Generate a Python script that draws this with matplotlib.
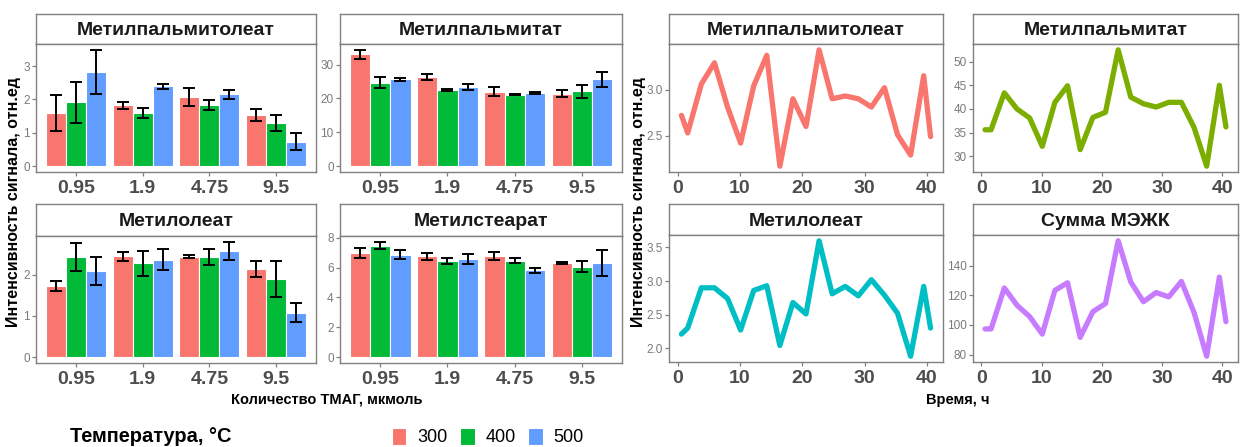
import matplotlib
matplotlib.use("Agg")
import matplotlib.pyplot as plt
from matplotlib.patches import Patch

plt.rcParams['font.family'] = ['Liberation Sans', 'DejaVu Sans']

# ---- bar data: rows = temperature (300, 400, 500 °C), columns = TMAG amount ----
conc_labels = ['0.95', '1.9', '4.75', '9.5']
temp_labels = ['300', '400', '500']

palmitoleate_mean = [[1.59, 1.82, 2.08, 1.54],
                     [1.91, 1.59, 1.84, 1.30],
                     [2.83, 2.39, 2.15, 0.74]]
palmitoleate_sd = [[0.545, 0.10, 0.265, 0.18],
                   [0.605, 0.145, 0.15, 0.245],
                   [0.66, 0.07, 0.135, 0.265]]

palmitate_mean = [[33.0, 26.3, 22.0, 21.4],
                  [24.7, 22.4, 21.1, 22.1],
                  [25.6, 23.5, 21.6, 25.6]]
palmitate_sd = [[1.35, 1.0, 1.35, 1.0],
                [1.5, 0.25, 0.2, 2.0],
                [0.5, 0.9, 0.3, 2.2]]

oleate_mean = [[1.73, 2.45, 2.44, 2.14],
               [2.43, 2.28, 2.42, 1.90],
               [2.09, 2.37, 2.58, 1.08]]
oleate_sd = [[0.13, 0.11, 0.04, 0.205],
             [0.35, 0.30, 0.195, 0.445],
             [0.33, 0.25, 0.22, 0.225]]

stearate_mean = [[6.98, 6.75, 6.77, 6.31],
                 [7.48, 6.43, 6.47, 6.05],
                 [6.86, 6.58, 5.82, 6.31]]
stearate_sd = [[0.36, 0.25, 0.28, 0.05],
               [0.25, 0.20, 0.17, 0.36],
               [0.30, 0.35, 0.18, 0.85]]

# ---- time series data ----
time_h = [0.6, 1.6, 3.8, 5.9, 8.0, 10.1, 12.2, 14.3, 16.4, 18.5, 20.6,
          22.7, 24.8, 26.9, 29.0, 31.1, 33.2, 35.3, 37.4, 39.5, 40.6]
ts_palmitoleate = [2.72, 2.53, 3.06, 3.29, 2.81, 2.42, 3.04, 3.37, 2.17, 2.90, 2.60,
                   3.43, 2.90, 2.93, 2.90, 2.81, 3.02, 2.51, 2.29, 3.15, 2.49]
ts_palmitate = [35.6, 35.6, 43.4, 40.0, 38.1, 32.1, 41.4, 44.9, 31.4, 38.2, 39.3,
                52.5, 42.5, 41.1, 40.4, 41.4, 41.4, 36.1, 27.9, 45.0, 36.2]
ts_oleate = [2.21, 2.30, 2.90, 2.90, 2.74, 2.27, 2.86, 2.93, 2.04, 2.68, 2.51,
             3.60, 2.81, 2.92, 2.78, 3.02, 2.79, 2.52, 1.88, 2.92, 2.30]
ts_sum = [97.3, 97.3, 124.9, 113.3, 105.6, 93.8, 123.3, 128.4, 91.6, 108.9, 114.4,
          156.7, 128.9, 115.6, 121.8, 118.9, 129.3, 108.4, 78.9, 132.2, 102.2]

bar_colors = ['#F8766D', '#00BA38', '#619CFF']
line_colors = ['#F8766D', '#7CAE00', '#00BFC4', '#C77CFF']
frame_col = '#808080'
ytick_col = '#7a7a7a'
xtick_col = '#4d4d4d'

W, H = 1241, 447
fig = plt.figure(figsize=(W / 100, H / 100), dpi=100)


def px_axes(x0, y0, x1, y1):
    return fig.add_axes([x0 / W, 1 - y1 / H, (x1 - x0) / W, (y1 - y0) / H])


def style_frame(ax):
    for s in ax.spines.values():
        s.set_color(frame_col)
        s.set_linewidth(1.0)


def add_strip(x0, y0, x1, y1, title):
    st = px_axes(x0, y0, x1, y1)
    st.set_xticks([])
    st.set_yticks([])
    style_frame(st)
    st.text(0.5, 0.45, title, ha='center', va='center', fontsize=14,
            fontweight='bold', color='#1a1a1a', transform=st.transAxes)


def style_ticks(ax):
    ax.tick_params(axis='both', which='both', direction='out', length=3,
                   width=0.9, color=frame_col)
    ax.tick_params(axis='y', labelsize=8.5, labelcolor=ytick_col, pad=1.5)
    ax.tick_params(axis='x', labelsize=14, labelcolor=xtick_col, pad=3)
    for lab in ax.get_xticklabels():
        lab.set_fontweight('bold')


def bar_panel(box, title, means, sds, yticks):
    x0, y0, x1, y1, strip_h = box
    add_strip(x0, y0, x1, y0 + strip_h, title)
    ax = px_axes(x0, y0 + strip_h, x1, y1)
    n = len(conc_labels)
    width = 0.3
    handles = []
    for i, (m, s) in enumerate(zip(means, sds)):
        pos = [j + (i - 1) * width for j in range(n)]
        b = ax.bar(pos, m, width=width, color=bar_colors[i], edgecolor='white',
                   linewidth=0.8, zorder=2)
        ax.errorbar(pos, m, yerr=s, fmt='none', ecolor='black', elinewidth=1.4,
                    capsize=4.2, capthick=1.4, zorder=3)
        handles.append(b)
    top = max(mm + ss for row_m, row_s in zip(means, sds) for mm, ss in zip(row_m, row_s))
    pad = 0.05 * top
    ax.set_ylim(-pad, top + pad)
    ax.set_xlim(-0.6, n - 0.4)
    ax.set_xticks(range(n))
    ax.set_xticklabels(conc_labels)
    ax.set_yticks(yticks)
    ax.set_yticklabels([str(t) for t in yticks])
    style_frame(ax)
    style_ticks(ax)
    return handles


def line_panel(box, title, values, color, yticks, fmt):
    x0, y0, x1, y1, strip_h = box
    add_strip(x0, y0, x1, y0 + strip_h, title)
    ax = px_axes(x0, y0 + strip_h, x1, y1)
    ax.plot(time_h, values, color=color, linewidth=3.8, solid_capstyle='round',
            solid_joinstyle='round', zorder=2)
    lo, hi = min(values), max(values)
    pad = 0.05 * (hi - lo)
    ax.set_ylim(lo - pad, hi + pad)
    tlo, thi = min(time_h), max(time_h)
    tpad = 0.05 * (thi - tlo)
    ax.set_xlim(tlo - tpad, thi + tpad)
    ax.set_xticks([0, 10, 20, 30, 40])
    ax.set_yticks(yticks)
    ax.set_yticklabels([fmt.format(t) for t in yticks])
    style_frame(ax)
    style_ticks(ax)
    return ax


# ---- left block: bar charts ----
handles = bar_panel((36, 14, 316, 172, 30), 'Метилпальмитолеат',
                    palmitoleate_mean, palmitoleate_sd, [0, 1, 2, 3])
bar_panel((340, 14, 622, 172, 30), 'Метилпальмитат',
          palmitate_mean, palmitate_sd, [0, 10, 20, 30])
bar_panel((36, 204, 316, 363, 32), 'Метилолеат',
          oleate_mean, oleate_sd, [0, 1, 2])
bar_panel((340, 204, 622, 363, 32), 'Метилстеарат',
          stearate_mean, stearate_sd, [0, 2, 4, 6, 8])

# ---- right block: time series ----
line_panel((669, 14, 943, 172, 30), 'Метилпальмитолеат', ts_palmitoleate,
           line_colors[0], [2.5, 3.0], '{:.1f}')
line_panel((973, 14, 1238, 172, 30), 'Метилпальмитат', ts_palmitate,
           line_colors[1], [30, 35, 40, 45, 50], '{:d}')
line_panel((669, 204, 943, 362, 31), 'Метилолеат', ts_oleate,
           line_colors[2], [2.0, 2.5, 3.0, 3.5], '{:.1f}')
line_panel((973, 204, 1238, 362, 31), 'Сумма МЭЖК', ts_sum,
           line_colors[3], [80, 100, 120, 140], '{:d}')

# ---- axis titles ----
ylab = 'Интенсивность сигнала, отн.ед'
fig.text(14 / W, 1 - 202 / H, ylab, rotation=90, ha='center', va='center',
         fontsize=11.5, fontweight='bold', color='black')
fig.text(639 / W, 1 - 202 / H, ylab, rotation=90, ha='center', va='center',
         fontsize=11.5, fontweight='bold', color='black')
fig.text(327 / W, 1 - 400 / H, 'Количество ТМАГ, мкмоль', ha='center', va='center',
         fontsize=10.5, fontweight='bold', color='black')
fig.text(958 / W, 1 - 400 / H, 'Время, ч', ha='center', va='center',
         fontsize=10.5, fontweight='bold', color='black')

# ---- legend ----
fig.text(70 / W, 1 - 437 / H, 'Температура, °C', ha='left', va='center',
         fontsize=14.4, fontweight='bold', color='black')
leg_handles = [Patch(facecolor=c, edgecolor='white', linewidth=0.8) for c in bar_colors]
fig.legend(leg_handles, temp_labels, loc='center left',
           bbox_to_anchor=(392 / W, 1 - 437 / H), ncol=3, frameon=False,
           fontsize=13, handlelength=0.8, handleheight=1.1, handletextpad=0.6,
           columnspacing=0.7, borderpad=0, borderaxespad=0)

fig.savefig('out.png', dpi=100, facecolor='white')
